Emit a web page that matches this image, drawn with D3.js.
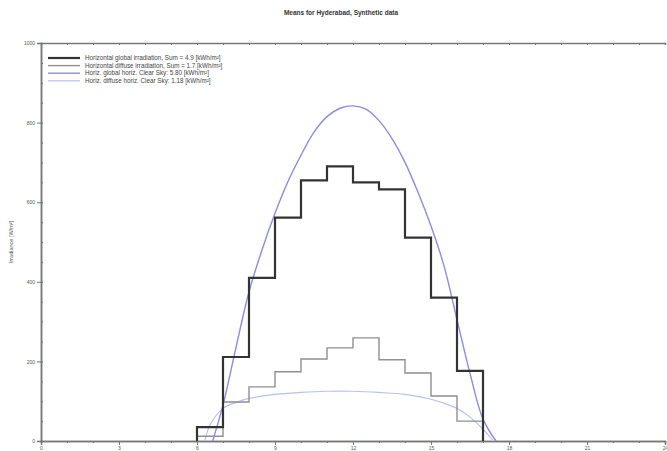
<!DOCTYPE html>
<html>
<head>
<meta charset="utf-8">
<script src="https://cdn.jsdelivr.net/npm/d3@7"></script>
<style>
  body { margin: 0; background: #fff; }
  text { font-family: "Liberation Sans", Arial, sans-serif; }
</style>
</head>
<body>
<div id="chart"></div>
<script>
// hourly means (bins start at the given hour)
const hours = [6, 7, 8, 9, 10, 11, 12, 13, 14, 15, 16, 17];
const globalH = [35, 211, 410, 561, 655, 690, 650, 632, 511, 360, 176, 0];
const diffuseH = [12, 98, 136, 174, 206, 234, 259, 204, 171, 113, 50, 0];

// clear sky model, half-hour samples
const csHours = [6.6, 7, 7.5, 8, 8.5, 9, 9.5, 10, 10.5, 11, 11.5, 12, 12.5, 13, 13.5, 14, 14.5, 15, 15.5, 16, 16.5, 17, 17.5];
const csGlobal = [0, 90, 235, 375, 480, 572, 652, 718, 776, 815, 836, 842, 834, 805, 760, 700, 625, 540, 440, 305, 170, 55, 0];
const csdHours = [6.3, 6.5, 7, 7.5, 8, 9, 10, 11, 12, 13, 14, 15, 15.5, 16, 16.5, 17, 17.4];
const csDiffuse = [0, 40, 82, 97, 107, 117, 122, 125, 125, 122, 117, 105, 95, 82, 60, 30, 0];

const xTicks = [0, 3, 6, 9, 12, 15, 18, 21, 24];
const yTicks = [0, 200, 400, 600, 800, 1000];

const legendItems = [
  { label: 'Horizontal global irradiation,  Sum = 4.9 [kWh/m²]', color: '#333', w: 2.2 },
  { label: 'Horizontal diffuse irradiation,  Sum = 1.7 [kWh/m²]', color: '#8f8f8f', w: 1.4 },
  { label: 'Horiz. global horiz. Clear Sky:  5.80 [kWh/m²]', color: '#8c8ce0', w: 1.4 },
  { label: 'Horiz. diffuse horiz. Clear Sky:  1.18 [kWh/m²]', color: '#b8c0f2', w: 1.2 }
];

const width = 667, height = 451;
const margin = { top: 43, right: 2, bottom: 10, left: 41 };

const svg = d3.select('#chart').append('svg')
  .attr('width', width)
  .attr('height', height);

const x = d3.scaleLinear().domain([0, 24]).range([margin.left, width - margin.right]);
const y = d3.scaleLinear().domain([0, 1000]).range([height - margin.bottom, margin.top]);

// title
svg.append('text')
  .attr('x', 341).attr('y', 15)
  .attr('text-anchor', 'middle')
  .attr('font-size', 6.5).attr('font-weight', 'bold')
  .attr('fill', '#333')
  .text('Means for Hyderabad,  Synthetic data');

// y label
svg.append('text')
  .attr('transform', `translate(13, 242) rotate(-90)`)
  .attr('text-anchor', 'middle')
  .attr('font-size', 5.5).attr('fill', '#555')
  .text('Irradiance [W/m²]');

// axes
const axisColor = '#777';
const xAxis = svg.append('g')
  .attr('transform', `translate(0, ${y(0)})`)
  .call(d3.axisBottom(x).tickValues(xTicks).tickSize(4).tickPadding(1).tickFormat(d3.format('d')));
const xMinor = svg.append('g')
  .attr('transform', `translate(0, ${y(0)})`)
  .call(d3.axisBottom(x).tickValues(d3.range(0, 25)).tickSize(2).tickFormat(''));
const xTop = svg.append('g')
  .attr('transform', `translate(0, ${y(1000)})`)
  .call(d3.axisBottom(x).tickValues(d3.range(0, 25)).tickSize(2).tickFormat(''));
const yAxis = svg.append('g')
  .attr('transform', `translate(${x(0)}, 0)`)
  .call(d3.axisLeft(y).tickValues(yTicks).tickSize(4).tickPadding(2).tickFormat(d3.format('d')));
const yMinor = svg.append('g')
  .attr('transform', `translate(${x(0)}, 0)`)
  .call(d3.axisRight(y).tickValues(d3.range(0, 1001, 50)).tickSize(2).tickFormat(''));

[xAxis, xMinor, xTop, yAxis, yMinor].forEach(g => {
  g.select('.domain').attr('stroke', axisColor).attr('stroke-width', 1.5);
  g.selectAll('.tick line').attr('stroke', axisColor);
  g.selectAll('text').attr('font-size', 5).attr('fill', '#555');
});

// step series
const step = d3.line()
  .x(d => x(d[0]))
  .y(d => y(d[1]))
  .curve(d3.curveStepAfter);

const smooth = d3.line()
  .x(d => x(d[0]))
  .y(d => y(d[1]))
  .curve(d3.curveCatmullRom);

svg.append('path')
  .datum(csdHours.map((h, i) => [h, csDiffuse[i]]))
  .attr('d', smooth)
  .attr('fill', 'none').attr('stroke', legendItems[3].color).attr('stroke-width', legendItems[3].w);

svg.append('path')
  .datum([[hours[0], 0]].concat(hours.map((h, i) => [h, diffuseH[i]])))
  .attr('d', step)
  .attr('fill', 'none').attr('stroke', legendItems[1].color).attr('stroke-width', legendItems[1].w);

svg.append('path')
  .datum(csHours.map((h, i) => [h, csGlobal[i]]))
  .attr('d', smooth)
  .attr('fill', 'none').attr('stroke', legendItems[2].color).attr('stroke-width', legendItems[2].w);

svg.append('path')
  .datum([[hours[0], 0]].concat(hours.map((h, i) => [h, globalH[i]])))
  .attr('d', step)
  .attr('fill', 'none').attr('stroke', legendItems[0].color).attr('stroke-width', legendItems[0].w);

// legend
const legend = svg.append('g').attr('transform', 'translate(48, 58)');
legendItems.forEach((item, i) => {
  const row = legend.append('g').attr('transform', `translate(0, ${i * 7.6})`);
  row.append('line')
    .attr('x1', 0).attr('x2', 32)
    .attr('stroke', item.color).attr('stroke-width', item.w);
  row.append('text')
    .attr('x', 37).attr('y', 2.2)
    .attr('font-size', 6.3).attr('fill', '#444')
    .text(item.label);
});
</script>
</body>
</html>
